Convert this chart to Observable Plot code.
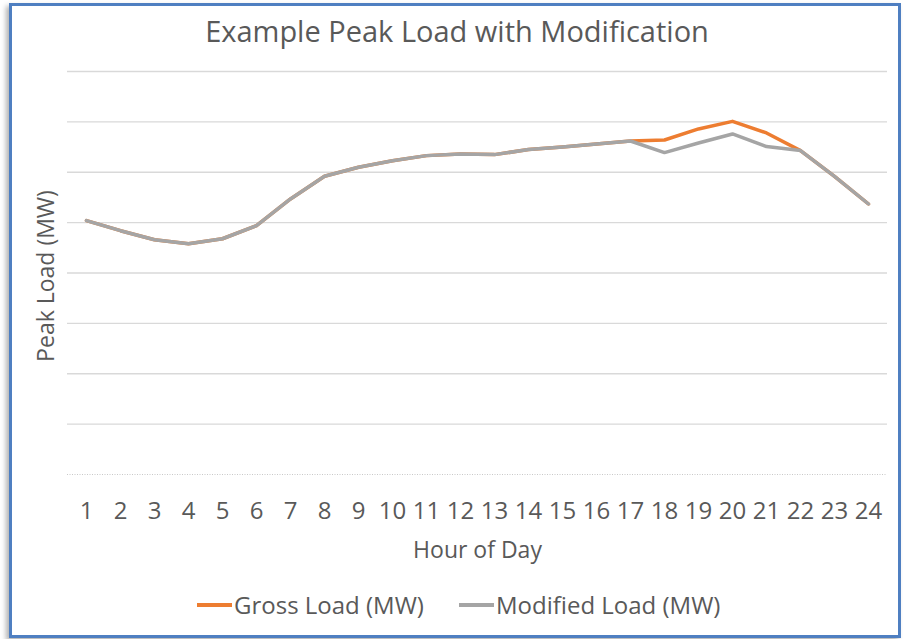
<!DOCTYPE html>
<html><head><meta charset="utf-8">
<script src="https://cdn.jsdelivr.net/npm/d3@7"></script>
<script src="https://cdn.jsdelivr.net/npm/@observablehq/plot@0.6"></script>
<style>
body{margin:0;background:#fff;font-family:"Open Sans",sans-serif;}
#wrap{position:relative;width:903px;height:639px;overflow:hidden;background:#fff;}
#frame{position:absolute;left:9px;top:3px;width:886px;height:629px;border:3px solid #4F7FC1;box-shadow:-3px 3px 5px rgba(0,0,0,0.3);}
#title{position:absolute;left:14px;width:886px;top:11px;text-align:center;font-size:29px;color:#595959;white-space:nowrap;}
#chart{position:absolute;left:0;top:0;}
.leg{position:absolute;top:588px;display:flex;align-items:center;font-size:24px;color:#595959;white-space:nowrap;}
.sw{display:inline-block;width:35px;height:4px;margin-right:2px;}
</style>
</head><body>
<div id="wrap">
<div id="frame"></div>
<div id="title">Example Peak Load with Modification</div>
<div id="chart"></div>
<div class="leg" style="left:197px"><span class="sw" style="background:#ED7D31"></span>Gross Load (MW)</div>
<div class="leg" style="left:459px"><span class="sw" style="background:#A5A5A5"></span>Modified Load (MW)</div>
</div>
<script>
const hours = [1,2,3,4,5,6,7,8,9,10,11,12,13,14,15,16,17,18,19,20,21,22,23,24];
const grossLoad = [5040,4840,4660,4580,4680,4940,5470,5920,6100,6230,6330,6360,6350,6450,6500,6560,6620,6640,6860,7010,6780,6430,5920,5370];
const modifiedLoad = [5040,4840,4660,4580,4680,4940,5470,5920,6100,6230,6330,6360,6350,6450,6500,6560,6620,6390,6580,6760,6510,6430,5920,5370];
const gridValues = [1000,2000,3000,4000,5000,6000,7000,8000];

const gross = hours.map((h,i)=>({hour:h, value:grossLoad[i]}));
const modified = hours.map((h,i)=>({hour:h, value:modifiedLoad[i]}));

const chart = Plot.plot({
  width:903, height:639,
  marginLeft:67, marginRight:16, marginTop:71, marginBottom:165,
  x:{type:"point", domain:hours, padding:0.5, label:null, axis:null},
  y:{domain:[0,8000], axis:null},
  style:{fontFamily:"Open Sans", color:"#595959", background:"transparent", overflow:"visible"},
  marks:[
    Plot.ruleY(gridValues, {stroke:"#d9d9d9", strokeWidth:1.3}),
    Plot.ruleY([0], {stroke:"#c8c8c8", strokeWidth:1, strokeDasharray:"1,1.5"}),
    Plot.axisX({tickSize:0, tickPadding:27, fontSize:24, fill:"#595959", label:null}),
    Plot.line(gross, {x:"hour", y:"value", stroke:"#ED7D31", strokeWidth:3.5}),
    Plot.line(modified, {x:"hour", y:"value", stroke:"#A5A5A5", strokeWidth:3.5}),
    Plot.text(["Hour of Day"], {frameAnchor:"bottom", dy:83, fontSize:23, fill:"#595959"}),
    Plot.text(["Peak Load (MW)"], {frameAnchor:"left", dx:-21, dy:3, rotate:-90, textAnchor:"middle", fontSize:23, fill:"#595959"})
  ]
});
document.getElementById("chart").appendChild(chart);
</script>
</body></html>
